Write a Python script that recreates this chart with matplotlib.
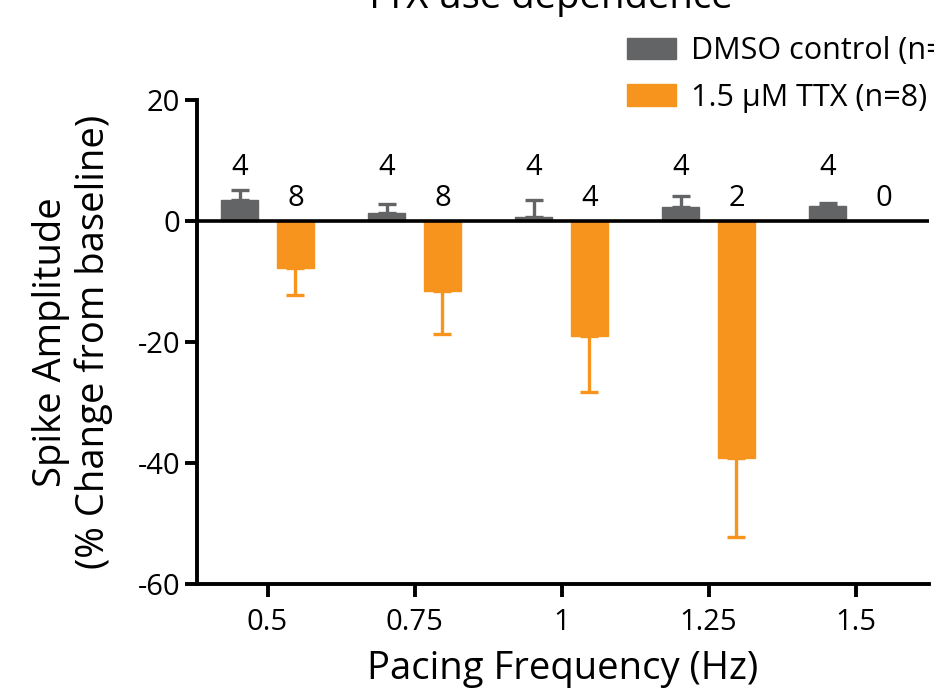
import numpy as np
import matplotlib
matplotlib.use("Agg")
import matplotlib.pyplot as plt

plt.rcParams['font.family'] = ['Open Sans', 'DejaVu Sans']
plt.rcParams['axes.unicode_minus'] = False

# data
freqs = ['0.5', '0.75', '1', '1.25', '1.5']
dmso_mean = [3.4, 1.4, 0.7, 2.3, 2.4]
dmso_sem = [1.7, 1.4, 2.8, 1.8, 0.5]
ttx_mean = [-7.8, -11.6, -19.0, -39.2, np.nan]
ttx_sem = [4.4, 7.0, 9.3, 13.0, np.nan]
dmso_n = [4, 4, 4, 4, 4]
ttx_n = [8, 8, 4, 2, 0]

gray = '#636466'
orange = '#f7941d'

fig = plt.figure(figsize=(9.34, 6.97), dpi=100)
ax = fig.add_axes([197 / 934, 113 / 697, 732 / 934, 484 / 697])

x = np.arange(len(freqs))
w = 0.25
off = 0.19

ax.bar(x - off, dmso_mean, w, color=gray, edgecolor=gray, linewidth=1, zorder=2,
       label='DMSO control (n=4)')
ax.bar(x + off, ttx_mean, w, color=orange, edgecolor=orange, linewidth=1, zorder=2,
       label='1.5 µM TTX (n=8)')

zeros = np.zeros(len(x))
ax.errorbar(x - off, dmso_mean, yerr=[zeros, dmso_sem], fmt='none', ecolor=gray,
            elinewidth=2.4, capsize=6.5, capthick=2.4, zorder=1)
ax.errorbar(x + off, ttx_mean, yerr=[ttx_sem, zeros], fmt='none', ecolor=orange,
            elinewidth=2.4, capsize=6.5, capthick=2.4, zorder=1)

# n labels
for xi, n in zip(x, dmso_n):
    ax.text(xi - off, 8.8, str(n), ha='center', va='center', fontsize=21)
for xi, n in zip(x, ttx_n):
    ax.text(xi + off, 3.7, str(n), ha='center', va='center', fontsize=21)

ax.axhline(0, color='black', linewidth=2.6, zorder=3)

ax.set_xlim(-0.48, 4.5)
ax.set_ylim(-60, 20)
ax.set_yticks([20, 0, -20, -40, -60])
ax.set_xticks(x)
ax.set_xticklabels(freqs)

for s in ['top', 'right']:
    ax.spines[s].set_visible(False)
for s in ['left', 'bottom']:
    ax.spines[s].set_linewidth(2.8)
ax.tick_params(axis='both', width=2.8, length=9, labelsize=21, direction='out')
ax.tick_params(axis='x', pad=8)
ax.tick_params(axis='y', pad=3)

ax.set_ylabel('Spike Amplitude\n(% Change from baseline)', fontsize=27.5, linespacing=1.15, labelpad=18)
ax.set_xlabel('Pacing Frequency (Hz)', fontsize=27.5, labelpad=10)

fig.text(548 / 934, 1 - 8 / 697, 'TTX use dependence', ha='center', va='baseline', fontsize=27.5)

fig.legend(loc='upper left', bbox_to_anchor=(615 / 934, 1 - 24 / 697), frameon=False,
           fontsize=22, handlelength=1.6, handleheight=0.72, labelspacing=0.55,
           handletextpad=0.5, borderaxespad=0)

fig.savefig('out.png', dpi=100)
